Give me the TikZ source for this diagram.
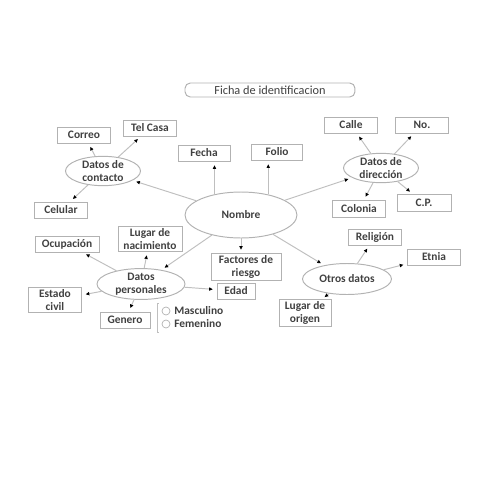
\documentclass[tikz,border=0pt]{standalone}
\usepackage{fontspec}
\setmainfont{Carlito}
\usetikzlibrary{arrows.meta,shapes.geometric}

\tikzset{
    label font/.style={font=\bfseries\fontsize{6.5}{7.2}\selectfont, text=black!75},
    box/.style={draw=gray!60, line width=0.55pt, label font, align=center,
        minimum width=1.06cm, minimum height=0.32cm, inner sep=1pt},
    bubble/.style={draw=gray!60, line width=0.55pt, ellipse, label font,
        align=center, inner sep=0pt},
    conn/.style={draw=gray!50, line width=0.55pt,
        -{Latex[length=2.2pt,width=2.2pt,black]}, shorten >=2pt},
    radio/.style={draw=gray!60, circle, minimum size=0.16cm, inner sep=0pt}
}

\begin{document}
\begin{tikzpicture}[x=0.02cm, y=-0.02cm]
    \useasboundingbox (0, 0) rectangle (495, 495);

    \node [box, rounded corners=3pt, font=\fontsize{7}{8}\selectfont,
        minimum width=3.4cm, minimum height=0.28cm] (title) at (270, 90) {Ficha de identificacion};

    % centre
    \node [bubble, minimum width=2.24cm, minimum height=0.92cm] (nombre) at (241, 215) {Nombre};

    % contacto
    \node [bubble, minimum width=1.5cm, minimum height=0.56cm] (contacto) at (103, 171) {Datos de\\contacto};
    \node [box] (correo) at (84, 135) {Correo};
    \node [box] (telcasa) at (150, 128) {Tel Casa};
    \node [box] (celular) at (61, 210) {Celular};

    \node [box, minimum width=1.04cm] (fecha) at (204, 153) {Fecha};
    \node [box, minimum width=1.02cm] (folio) at (277, 152) {Folio};

    % direccion
    \node [bubble, minimum width=1.5cm, minimum height=0.58cm] (direccion) at (381, 168) {Datos de\\dirección};
    \node [box] (calle) at (351, 125) {Calle};
    \node [box] (numero) at (422, 125) {No.};
    \node [box, minimum height=0.34cm] (colonia) at (359, 209) {Colonia};
    \node [box, minimum width=1.08cm, minimum height=0.34cm] (cp) at (424, 203) {C.P.};

    % personales
    \node [bubble, minimum width=1.76cm, minimum height=0.58cm] (personales) at (141, 284) {Datos\\personales};
    \node [box, minimum width=1.28cm] (ocupacion) at (67, 244) {Ocupación};
    \node [box, minimum width=1.28cm, minimum height=0.38cm] (nacimiento) at (150, 239) {Lugar de\\nacimiento};
    \node [box, minimum height=0.44cm] (civil) at (55, 300) {Estado\\civil};
    \node [box, minimum width=1.0cm] (genero) at (125, 320) {Genero};
    \node [box, minimum width=1.4cm, minimum height=0.4cm] (factores) at (246, 267) {Factores de\\riesgo};
    \node [box, minimum width=0.76cm] (edad) at (236, 291) {Edad};

    \node [radio] (masc) at (166, 311) {};
    \node [label font, anchor=west, inner sep=0pt] (masctext) at (174, 311) {Masculino};
    \node [radio] (fem) at (166, 324) {};
    \node [label font, anchor=west, inner sep=0pt] (femtext) at (174, 324) {Femenino};
    \draw [gray!50, line width=0.5pt] (159, 303) -- (157, 303) -- (157, 332) -- (159, 332);

    % otros
    \node [bubble, minimum width=1.78cm, minimum height=0.62cm] (otros) at (347, 279) {Otros datos};
    \node [box] (religion) at (375, 237) {Religión};
    \node [box] (etnia) at (434, 257) {Etnia};
    \node [box, minimum width=1.04cm, minimum height=0.42cm] (origen) at (305, 313) {Lugar de\\origen};

    \draw [conn] (nombre) -- (contacto);
    \draw [conn] (nombre.142) -- (nombre.142 |- fecha.south);
    \draw [conn] (nombre.37) -- (nombre.37 |- folio.south);
    \draw [conn] (nombre) -- (direccion);
    \draw [conn] (nombre) -- (personales);
    \draw [conn] (nombre.south) -- (nombre.south |- factores.north);
    \draw [conn] (nombre) -- (otros);

    \draw [conn] (contacto) -- (correo);
    \draw [conn] (contacto) -- (telcasa);
    \draw [conn] (contacto) -- (celular);

    \draw [conn] (direccion) -- (calle);
    \draw [conn] (direccion) -- (numero);
    \draw [conn] (direccion) -- (colonia);
    \draw [conn] (direccion) -- (cp);

    \draw [conn] (personales) -- (ocupacion);
    \draw [conn] (personales) -- (nacimiento);
    \draw [conn] (personales) -- (civil);
    \draw [conn] (personales) -- (genero);
    \draw [conn] (personales) -- (edad);

    \draw [conn] (otros) -- (religion);
    \draw [conn] (otros) -- (etnia);
    \draw [conn] (otros) -- (origen);
\end{tikzpicture}
\end{document}
